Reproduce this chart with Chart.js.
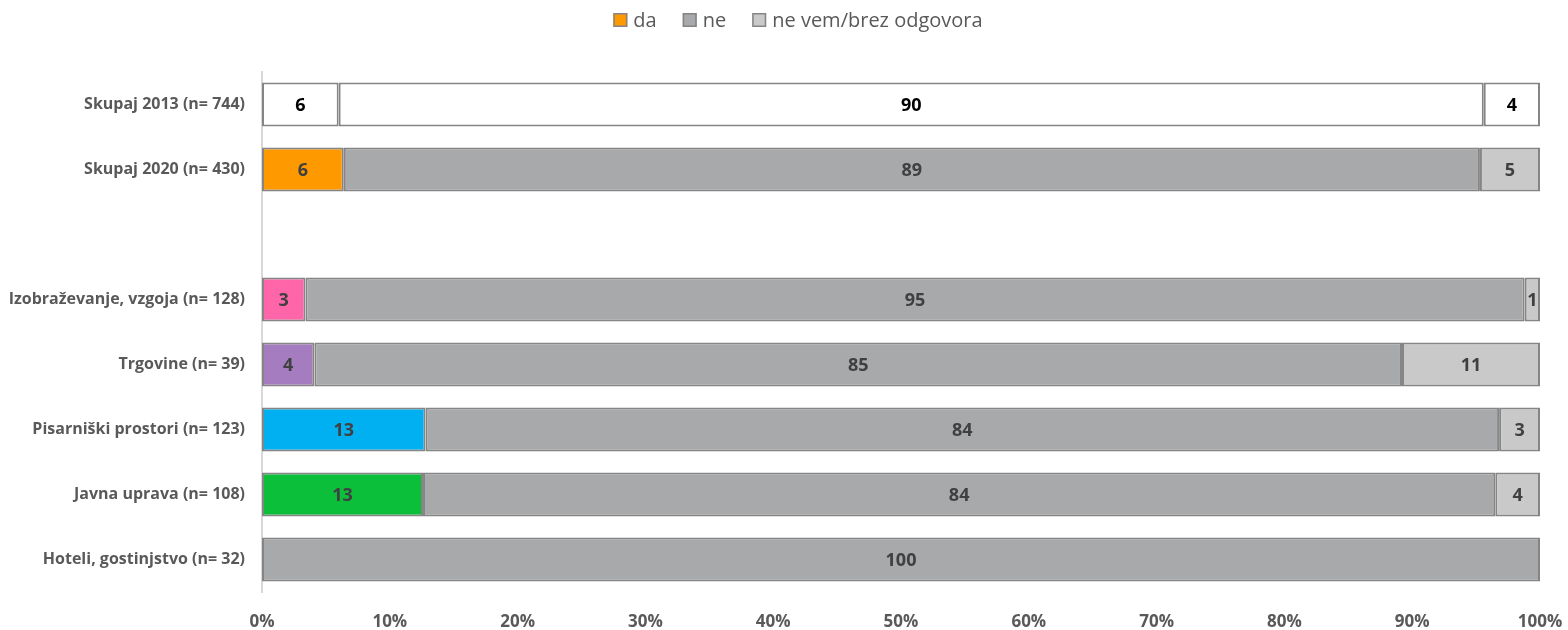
<!DOCTYPE html>
<html>
<head>
<meta charset="utf-8">
<script src="https://cdn.jsdelivr.net/npm/chart.js@4.4.1/dist/chart.umd.min.js"></script>
<style>
  html, body { margin: 0; padding: 0; background: #fff; }
  #wrap { width: 1568px; height: 630px; }
</style>
</head>
<body>
<div id="wrap"><canvas id="chart" width="1568" height="630"></canvas></div>
<script>
// ---- data ----
const categories = [
  "Skupaj 2013 (n= 744)",
  "Skupaj 2020 (n= 430)",
  "",
  "Izobraževanje, vzgoja (n= 128)",
  "Trgovine (n= 39)",
  "Pisarniški prostori (n= 123)",
  "Javna uprava (n= 108)",
  "Hoteli, gostinjstvo (n= 32)"
];
const seriesNames = ["da", "ne", "ne vem/brez odgovora"];
const daValues    = [6.0, 6.4, null, 3.4, 4.1, 12.8, 12.6, 0];
const neValues    = [89.6, 88.9, null, 95.4, 85.1, 84.0, 83.9, 100];
const nevemValues = [4.4, 4.7, null, 1.2, 10.8, 3.2, 3.5, 0];
const xTicks = [0, 10, 20, 30, 40, 50, 60, 70, 80, 90, 100];

// ---- colours ----
const daColors = ["#ffffff", "#ff9900", "#ffffff", "#ff66aa", "#a67cc0", "#00b0f0", "#0bbf3b", "#a6a6a6"];
const neColor = "#a8a9ab";
const nevemColor = "#c9c9c9";
const legendFills = ["#ff9900", neColor, nevemColor];
const edge = "#858585";
const textGray = "#595959";
const FONT = "'Open Sans'";

function perRow(first, rest) {
  return categories.map((c, i) => i === 0 ? first : rest);
}

// ================= LABELS IN BARS =================
const barLabels = {
  id: "barLabels",
  afterDatasetsDraw(chart) {
    const ctx = chart.ctx;
    ctx.save();
    ctx.font = "bold 18px " + FONT;
    ctx.textAlign = "center";
    ctx.textBaseline = "middle";
    chart.data.datasets.forEach((ds, di) => {
      const meta = chart.getDatasetMeta(di);
      meta.data.forEach((bar, i) => {
        const v = ds.data[i];
        if (v === null || v === 0) return;
        ctx.fillStyle = i === 0 ? "#000000" : "#404040";
        ctx.fillText(Math.round(v), (bar.x + bar.base) / 2, bar.y + 1);
      });
    });
    ctx.restore();
  }
};

// ================= LEGEND (top, centred) =================
const topLegend = {
  id: "topLegend",
  afterDraw(chart) {
    const ctx = chart.ctx;
    const box = 14, gapBox = 6, gapItem = 26, centre = 798, midY = 20;
    ctx.save();
    ctx.font = "20px " + FONT;
    ctx.textBaseline = "middle";
    const widths = seriesNames.map(n => ctx.measureText(n).width);
    let total = 0;
    widths.forEach((w, i) => { total += box + gapBox + w + (i ? gapItem : 0); });
    let x = centre - total / 2;
    seriesNames.forEach((n, i) => {
      ctx.fillStyle = legendFills[i];
      ctx.fillRect(x, midY - box / 2, box, box);
      ctx.strokeStyle = edge;
      ctx.lineWidth = 1.5;
      ctx.strokeRect(x + 0.75, midY - box / 2 + 0.75, box - 1.5, box - 1.5);
      ctx.fillStyle = textGray;
      ctx.fillText(n, x + box + gapBox, midY + 1);
      x += box + gapBox + widths[i] + gapItem;
    });
    ctx.restore();
  }
};

const ctx = document.getElementById("chart").getContext("2d");
new Chart(ctx, {
  type: "bar",
  data: {
    labels: categories,
    datasets: [
      {
        label: seriesNames[0],
        data: daValues,
        backgroundColor: daColors,
        borderColor: edge,
        borderWidth: 2,
        borderSkipped: false
      },
      {
        label: seriesNames[1],
        data: neValues,
        backgroundColor: perRow("#ffffff", neColor),
        borderColor: edge,
        borderWidth: 2,
        borderSkipped: false
      },
      {
        label: seriesNames[2],
        data: nevemValues,
        backgroundColor: perRow("#ffffff", nevemColor),
        borderColor: edge,
        borderWidth: 2,
        borderSkipped: false
      }
    ]
  },
  options: {
    indexAxis: "y",
    responsive: false,
    animation: false,
    barPercentage: 0.68,
    categoryPercentage: 1,
    layout: { padding: { top: 72, right: 28, left: 0, bottom: 0 } },
    plugins: {
      tooltip: { enabled: false },
      legend: { display: false }
    },
    scales: {
      x: {
        stacked: true,
        min: 0,
        max: 100,
        afterBuildTicks(scale) { scale.ticks = xTicks.map(v => ({ value: v })); },
        afterFit(scale) {
          scale.height = 38;
          scale.paddingLeft = 0;
          scale.paddingRight = 0;
        },
        grid: { display: false },
        border: { display: false },
        ticks: {
          color: textGray,
          font: { family: FONT, size: 17, weight: "bold" },
          padding: 12,
          maxRotation: 0,
          callback: v => v + "%"
        }
      },
      y: {
        stacked: true,
        afterFit(scale) { scale.width = 262; },
        grid: { display: false },
        border: { display: true, color: "#d9d9d9", width: 2 },
        ticks: {
          color: textGray,
          font: { family: FONT, size: 16, weight: "bold" },
          padding: 9
        }
      }
    }
  },
  plugins: [barLabels, topLegend]
});
</script>
</body>
</html>
